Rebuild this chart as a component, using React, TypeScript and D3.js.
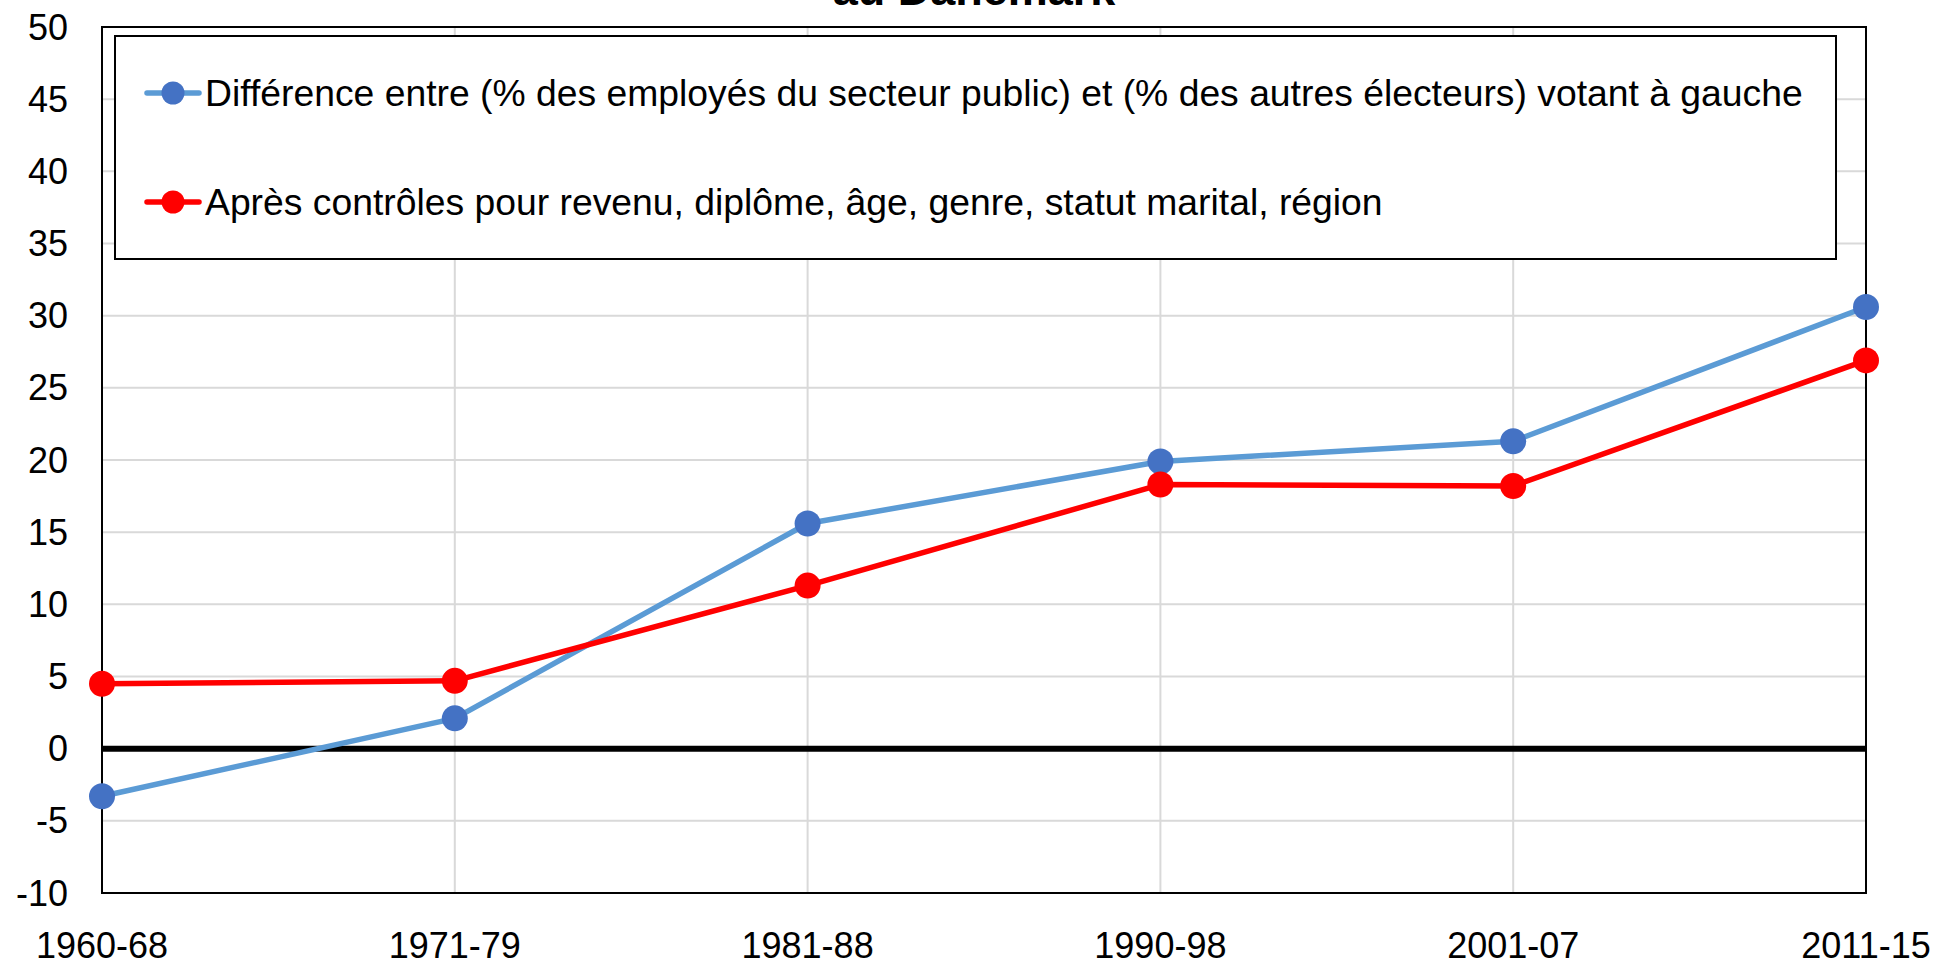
import React, { useEffect, useRef } from 'react';
import * as d3 from 'd3';

const periods = ['1960-68', '1971-79', '1981-88', '1990-98', '2001-07', '2011-15'];
const rawDiff = [-3.3, 2.1, 15.6, 19.9, 21.3, 30.6];
const controlledDiff = [4.5, 4.7, 11.3, 18.3, 18.2, 26.9];
const yTicks = [-10, -5, 0, 5, 10, 15, 20, 25, 30, 35, 40, 45, 50];
const legendLabels = [
    'Différence entre (% des employés du secteur public) et (% des autres électeurs) votant à gauche',
    'Après contrôles pour revenu, diplôme, âge, genre, statut marital, région',
];
const titleText = 'au Danemark';

const width = 1939;
const height = 965;

const App: React.FC = () => {
    const svgRef = useRef(null);

    useEffect(() => {
        const svg = d3.select(svgRef.current);
        svg.selectAll('*').remove();

        const left = 102, right = 1866, top = 27, bottom = 893;
        const font = 'Liberation Sans, Arial, sans-serif';

        const xScale = d3.scalePoint<string>().domain(periods).range([left, right]);
        const yScale = d3.scaleLinear().domain([-10, 50]).range([bottom, top]);

        // gridlines
        svg.append('g').selectAll('line.h')
            .data(yTicks)
            .enter().append('line')
            .attr('x1', left).attr('x2', right)
            .attr('y1', d => yScale(d)).attr('y2', d => yScale(d))
            .attr('stroke', '#d9d9d9').attr('stroke-width', 2);
        svg.append('g').selectAll('line.v')
            .data(periods)
            .enter().append('line')
            .attr('x1', d => xScale(d)!).attr('x2', d => xScale(d)!)
            .attr('y1', top).attr('y2', bottom)
            .attr('stroke', '#d9d9d9').attr('stroke-width', 2);

        // plot border
        svg.append('rect')
            .attr('x', left).attr('y', top)
            .attr('width', right - left).attr('height', bottom - top)
            .attr('fill', 'none').attr('stroke', 'black').attr('stroke-width', 2);

        // zero line
        svg.append('line')
            .attr('x1', left).attr('x2', right)
            .attr('y1', yScale(0)).attr('y2', yScale(0))
            .attr('stroke', 'black').attr('stroke-width', 6);

        // y labels
        svg.append('g').selectAll('text')
            .data(yTicks)
            .enter().append('text')
            .attr('x', 68).attr('y', d => yScale(d))
            .attr('dy', '0.35em')
            .attr('text-anchor', 'end')
            .attr('font-family', font).attr('font-size', 36)
            .text(d => d);

        // x labels
        svg.append('g').selectAll('text')
            .data(periods)
            .enter().append('text')
            .attr('x', d => xScale(d)!).attr('y', 958)
            .attr('text-anchor', 'middle')
            .attr('font-family', font).attr('font-size', 36)
            .text(d => d);

        // legend
        svg.append('rect')
            .attr('x', 115).attr('y', 36)
            .attr('width', 1836 - 115).attr('height', 259 - 36)
            .attr('fill', 'white').attr('stroke', 'black').attr('stroke-width', 2);

        const series = [
            { values: rawDiff, line: '#5b9bd5', marker: '#4472c4' },
            { values: controlledDiff, line: '#ff0000', marker: '#ff0000' },
        ];

        const legendRows = [93, 202];
        series.forEach((s, i) => {
            const ly = legendRows[i];
            svg.append('line')
                .attr('x1', 147).attr('x2', 199).attr('y1', ly).attr('y2', ly)
                .attr('stroke', s.line).attr('stroke-width', 5.5).attr('stroke-linecap', 'round');
            svg.append('circle')
                .attr('cx', 173).attr('cy', ly).attr('r', 11.5).attr('fill', s.marker);
            svg.append('text')
                .attr('x', 205).attr('y', ly).attr('dy', '0.35em')
                .attr('font-family', font).attr('font-size', 37.3)
                .text(legendLabels[i]);
        });

        const line = d3.line<number>()
            .x((_, i) => xScale(periods[i])!)
            .y(d => yScale(d));

        series.forEach(s => {
            svg.append('path')
                .datum(s.values)
                .attr('d', line)
                .attr('fill', 'none')
                .attr('stroke', s.line)
                .attr('stroke-width', 5.5)
                .attr('stroke-linejoin', 'round');
            svg.append('g').selectAll('circle')
                .data(s.values)
                .enter().append('circle')
                .attr('cx', (_, i) => xScale(periods[i])!)
                .attr('cy', d => yScale(d))
                .attr('r', 13)
                .attr('fill', s.marker);
        });

        // title (only the last line is visible at the top)
        svg.append('text')
            .attr('x', 974).attr('y', 5)
            .attr('text-anchor', 'middle')
            .attr('font-family', font).attr('font-size', 45).attr('font-weight', 'bold')
            .text(titleText);
    }, []);

    return (
        <svg ref={svgRef} width={width} height={height}
            style={{ position: 'absolute', left: 0, top: 0, backgroundColor: 'white' }} />
    );
};

export default App;
